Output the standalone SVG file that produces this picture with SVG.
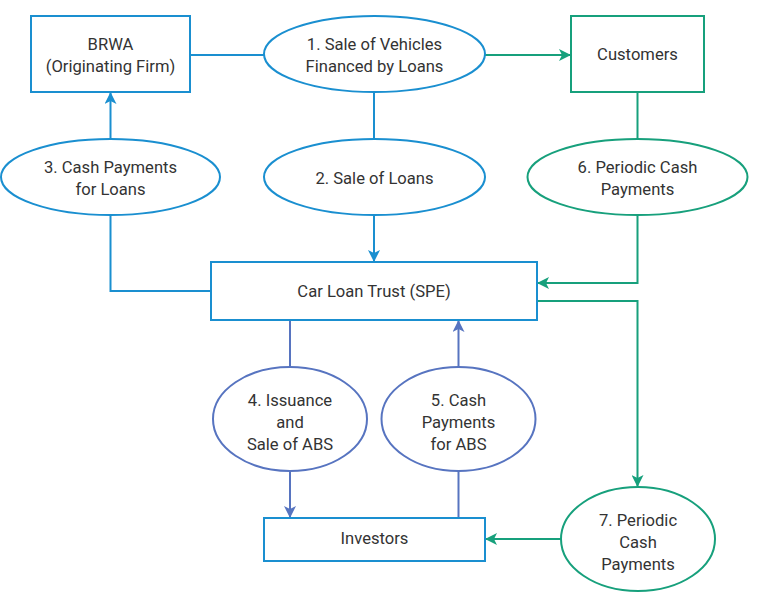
<svg xmlns="http://www.w3.org/2000/svg" width="757" height="598" viewBox="0 0 757 598">
<style>
text{font-family:Roboto,"Liberation Sans",sans-serif;font-size:16.6px;fill:#333;text-anchor:middle}
.b{stroke:#1a8fd0}
.g{stroke:#17a07c}
.p{stroke:#5774c0}
.n{fill:#fff;stroke-width:2}
.c{fill:none;stroke-width:2}
</style>
<defs>
<marker id="ab" viewBox="0 0 12 12" refX="11" refY="6" markerWidth="12" markerHeight="12" markerUnits="userSpaceOnUse" orient="auto"><path d="M0,0 L12,6 L0,12 L3,6 z" fill="#1a8fd0"/></marker>
<marker id="ag" viewBox="0 0 12 12" refX="11" refY="6" markerWidth="12" markerHeight="12" markerUnits="userSpaceOnUse" orient="auto"><path d="M0,0 L12,6 L0,12 L3,6 z" fill="#17a07c"/></marker>
<marker id="ap" viewBox="0 0 12 12" refX="11" refY="6" markerWidth="12" markerHeight="12" markerUnits="userSpaceOnUse" orient="auto"><path d="M0,0 L12,6 L0,12 L3,6 z" fill="#5774c0"/></marker>
</defs>
<g id="connectors">
<path class="c b" d="M190,55 H264"/>
<path class="c g" d="M485,55 H570" marker-end="url(#ag)"/>
<path class="c b" d="M374,92 V139"/>
<path class="c b" d="M110.5,139 V93" marker-end="url(#ab)"/>
<path class="c b" d="M374,215 V261" marker-end="url(#ab)"/>
<path class="c b" d="M110.5,215 V291 H211"/>
<path class="c g" d="M637.5,92 V139"/>
<path class="c g" d="M637.5,215 V283 H538" marker-end="url(#ag)"/>
<path class="c g" d="M537,301 H637.5 V486" marker-end="url(#ag)"/>
<path class="c p" d="M290,320 V367"/>
<path class="c p" d="M290,471 V517" marker-end="url(#ap)"/>
<path class="c p" d="M458.5,518 V471"/>
<path class="c p" d="M458.5,367 V321" marker-end="url(#ap)"/>
<path class="c g" d="M561,539 H486" marker-end="url(#ag)"/>
</g>
<g id="brwa"><rect class="n b" x="31" y="16" width="159" height="76"/><text x="110.5" y="50">BRWA</text><text x="110.5" y="72">(Originating Firm)</text></g>
<g id="step1"><ellipse class="n b" cx="374.5" cy="54" rx="110.5" ry="38"/><text x="374.5" y="50">1. Sale of Vehicles</text><text x="374.5" y="72">Financed by Loans</text></g>
<g id="customers"><rect class="n g" x="571" y="16" width="133" height="76"/><text x="637.5" y="60">Customers</text></g>
<g id="step3"><ellipse class="n b" cx="110.5" cy="177" rx="109.5" ry="38"/><text x="110.5" y="173">3. Cash Payments</text><text x="110.5" y="195">for Loans</text></g>
<g id="step2"><ellipse class="n b" cx="374.5" cy="177" rx="110.5" ry="38"/><text x="374.5" y="184">2. Sale of Loans</text></g>
<g id="step6"><ellipse class="n g" cx="637.5" cy="177" rx="110" ry="38"/><text x="637.5" y="173">6. Periodic Cash</text><text x="637.5" y="195">Payments</text></g>
<g id="trust"><rect class="n b" x="211" y="262" width="326" height="58"/><text x="374" y="297">Car Loan Trust (SPE)</text></g>
<g id="step4"><ellipse class="n p" cx="290" cy="419" rx="77" ry="52"/><text x="290" y="406">4. Issuance</text><text x="290" y="428">and</text><text x="290" y="450">Sale of ABS</text></g>
<g id="step5"><ellipse class="n p" cx="458.5" cy="419" rx="77" ry="52"/><text x="458.5" y="406">5. Cash</text><text x="458.5" y="428">Payments</text><text x="458.5" y="450">for ABS</text></g>
<g id="investors"><rect class="n b" x="264" y="518" width="221" height="43"/><text x="374.5" y="544">Investors</text></g>
<g id="step7"><ellipse class="n g" cx="638" cy="539" rx="77" ry="52"/><text x="638" y="526">7. Periodic</text><text x="638" y="548">Cash</text><text x="638" y="570">Payments</text></g>
</svg>
